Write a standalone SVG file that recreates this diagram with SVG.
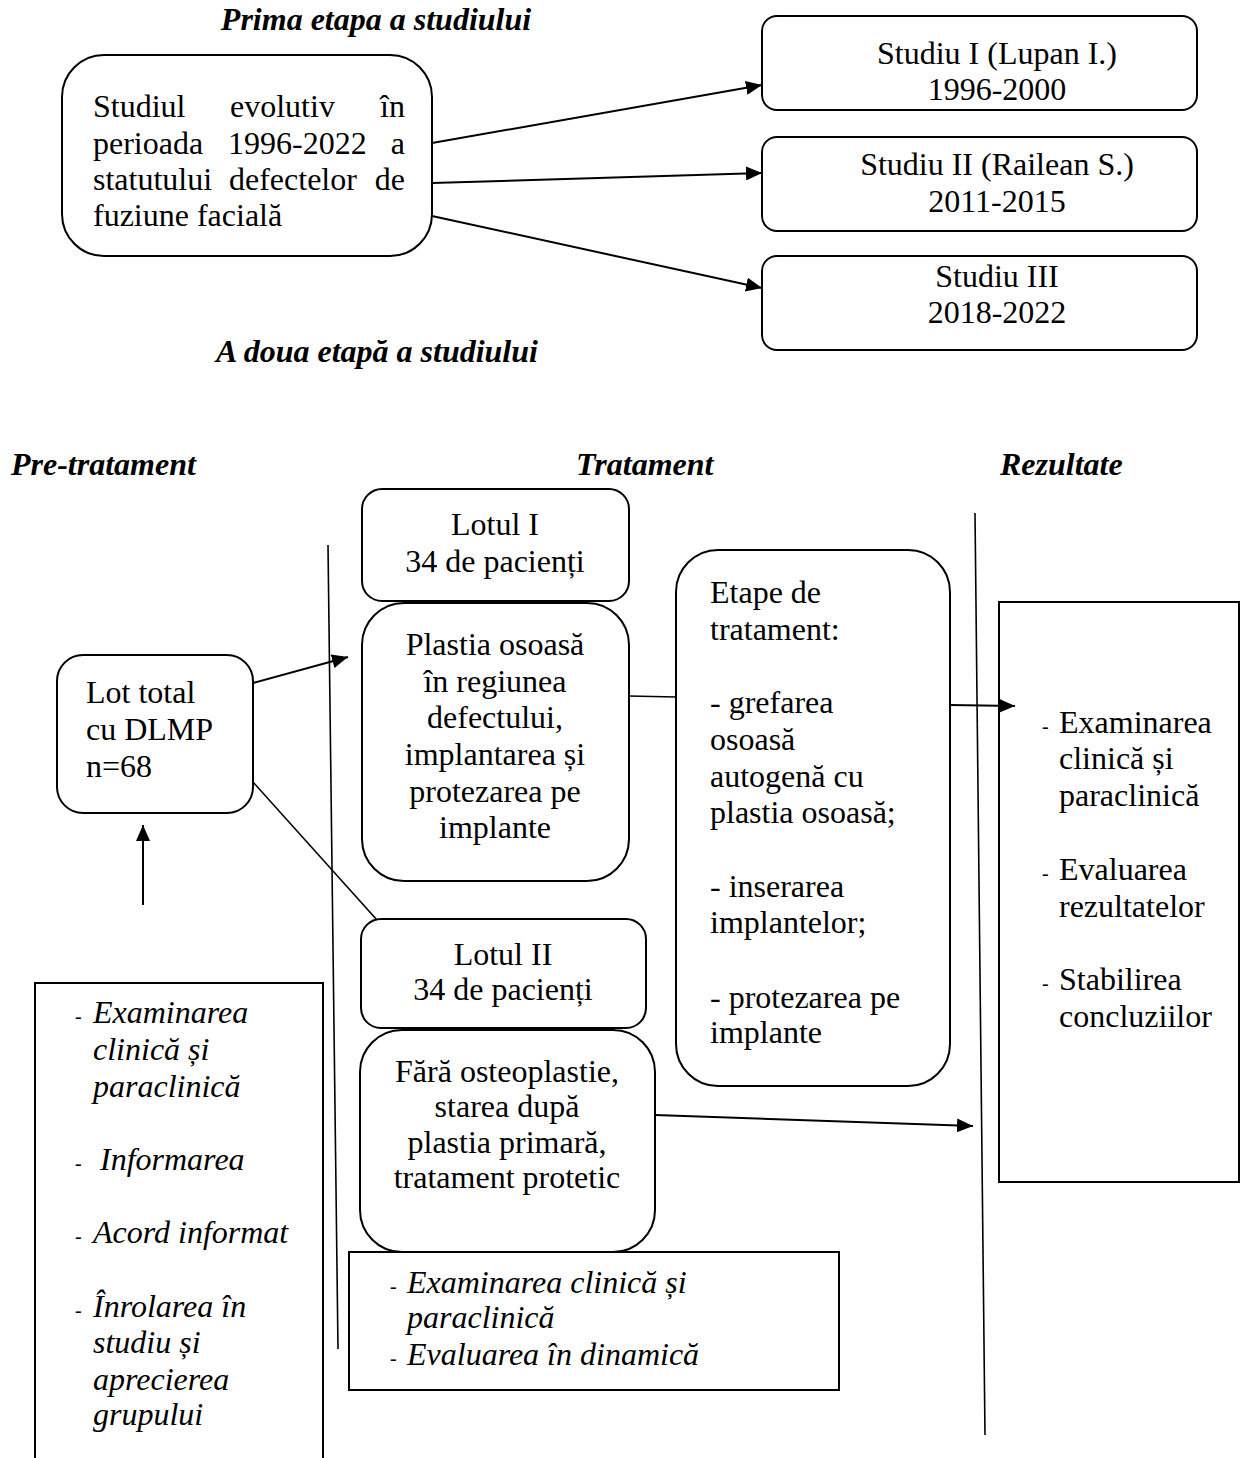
<svg xmlns="http://www.w3.org/2000/svg" width="1246" height="1458" viewBox="0 0 1246 1458">
<style>
text{font-family:"Liberation Serif","Times New Roman",serif;font-size:32px;fill:#000}
.t{font-weight:bold;font-style:italic}
.i{font-style:italic}
.c{text-anchor:middle}
.e{text-anchor:end}
.d{font-size:20px}
.box{fill:#fff;stroke:#000;stroke-width:2}
.ln{fill:none;stroke:#000;stroke-width:2}
.thin{fill:none;stroke:#000;stroke-width:1.6}
</style>
<defs>
<marker id="ah" markerUnits="userSpaceOnUse" markerWidth="16" markerHeight="14" refX="16" refY="7" orient="auto">
<path d="M0,0 L16,7 L0,14 z" fill="#000"/>
</marker>
</defs>
<rect width="1246" height="1458" fill="#fff"/>

<g id="titles">
<text class="t c" x="376" y="30">Prima etapa a studiului</text>
<text class="t c" x="377" y="362">A doua etapă a studiului</text>
<text class="t" x="11" y="475">Pre-tratament</text>
<text class="t" x="576" y="475">Tratament</text>
<text class="t" x="1000" y="475">Rezultate</text>
</g>

<g id="node-studiul">
<rect class="box" x="62" y="55" width="370" height="201" rx="42"/>
<text x="93" y="117">Studiul</text><text x="230" y="117">evolutiv</text><text class="e" x="405" y="117">în</text>
<text x="93" y="154">perioada</text><text x="228" y="154">1996-2022</text><text class="e" x="405" y="154">a</text>
<text x="93" y="190">statutului</text><text x="229" y="190">defectelor</text><text class="e" x="405" y="190">de</text>
<text x="93" y="226">fuziune facială</text>
</g>

<g id="node-studiu1">
<rect class="box" x="762" y="16" width="435" height="94" rx="15"/>
<text class="c" x="997" y="64">Studiu I (Lupan I.)</text>
<text class="c" x="997" y="100">1996-2000</text>
</g>
<g id="node-studiu2">
<rect class="box" x="762" y="137" width="435" height="94" rx="15"/>
<text class="c" x="997" y="175">Studiu II (Railean S.)</text>
<text class="c" x="997" y="212">2011-2015</text>
</g>
<g id="node-studiu3">
<rect class="box" x="762" y="256" width="435" height="94" rx="15"/>
<text class="c" x="997" y="287">Studiu III</text>
<text class="c" x="997" y="323">2018-2022</text>
</g>

<g id="node-lot-total">
<rect class="box" x="57" y="655" width="196" height="158" rx="26"/>
<text x="86" y="703">Lot total</text>
<text x="86" y="740">cu DLMP</text>
<text x="86" y="777">n=68</text>
</g>

<g id="node-pre-list">
<path class="ln" d="M35,1458 V983 H323 V1458"/>
<text class="d" x="75" y="1023">-</text><text class="i" x="93" y="1023">Examinarea</text>
<text class="i" x="93" y="1060">clinică și</text>
<text class="i" x="93" y="1097">paraclinică</text>
<text class="d" x="75" y="1170">-</text><text class="i" x="100" y="1170">Informarea</text>
<text class="d" x="75" y="1243">-</text><text class="i" x="93" y="1243">Acord informat</text>
<text class="d" x="75" y="1317">-</text><text class="i" x="93" y="1317">Înrolarea în</text>
<text class="i" x="93" y="1353">studiu și</text>
<text class="i" x="93" y="1390">aprecierea</text>
<text class="i" x="93" y="1425">grupului</text>
</g>

<g id="node-lotul1">
<rect class="box" x="362" y="489" width="267" height="112" rx="20"/>
<text class="c" x="495" y="535">Lotul I</text>
<text class="c" x="495" y="572">34 de pacienți</text>
</g>

<g id="node-plastia">
<rect class="box" x="362" y="603" width="267" height="278" rx="42"/>
<text class="c" x="495" y="655">Plastia osoasă</text>
<text class="c" x="495" y="692">în regiunea</text>
<text class="c" x="495" y="728">defectului,</text>
<text class="c" x="495" y="765">implantarea și</text>
<text class="c" x="495" y="802">protezarea pe</text>
<text class="c" x="495" y="838">implante</text>
</g>

<g id="node-lotul2">
<rect class="box" x="361" y="919" width="285" height="109" rx="20"/>
<text class="c" x="503" y="965">Lotul II</text>
<text class="c" x="503" y="1000">34 de pacienți</text>
</g>

<g id="node-fara">
<rect class="box" x="360" y="1030" width="295" height="222" rx="42"/>
<text class="c" x="507" y="1082">Fără osteoplastie,</text>
<text class="c" x="507" y="1117">starea după</text>
<text class="c" x="507" y="1153">plastia primară,</text>
<text class="c" x="507" y="1188">tratament protetic</text>
</g>

<g id="node-evaluare">
<rect class="box" x="349" y="1252" width="490" height="138"/>
<text class="d" x="390" y="1293">-</text><text class="i" x="407" y="1293">Examinarea clinică și</text>
<text class="i" x="407" y="1328">paraclinică</text>
<text class="d" x="390" y="1365">-</text><text class="i" x="407" y="1365">Evaluarea în dinamică</text>
</g>

<g id="node-etape">
<rect class="box" x="676" y="550" width="274" height="536" rx="42"/>
<text x="710" y="603">Etape de</text>
<text x="710" y="640">tratament:</text>
<text x="710" y="713">- grefarea</text>
<text x="710" y="750">osoasă</text>
<text x="710" y="787">autogenă cu</text>
<text x="710" y="823">plastia osoasă;</text>
<text x="710" y="897">- inserarea</text>
<text x="710" y="933">implantelor;</text>
<text x="710" y="1008">- protezarea pe</text>
<text x="710" y="1043">implante</text>
</g>

<g id="node-rezultate">
<rect class="box" x="999" y="602" width="240" height="580"/>
<text class="d" x="1042" y="733">-</text><text x="1059" y="733">Examinarea</text>
<text x="1059" y="769">clinică și</text>
<text x="1059" y="806">paraclinică</text>
<text class="d" x="1042" y="880">-</text><text x="1059" y="880">Evaluarea</text>
<text x="1059" y="917">rezultatelor</text>
<text class="d" x="1042" y="990">-</text><text x="1059" y="990">Stabilirea</text>
<text x="1059" y="1027">concluziilor</text>
</g>

<g id="connectors">
<line class="ln" x1="432" y1="143" x2="762" y2="85" marker-end="url(#ah)"/>
<line class="ln" x1="432" y1="183" x2="762" y2="173" marker-end="url(#ah)"/>
<line class="ln" x1="432" y1="216" x2="762" y2="288" marker-end="url(#ah)"/>
<line class="ln" x1="253" y1="683" x2="348" y2="657" marker-end="url(#ah)"/>
<line class="thin" x1="253" y1="782" x2="377" y2="920"/>
<line class="ln" x1="143" y1="905" x2="143" y2="825" marker-end="url(#ah)"/>
<line class="thin" x1="629" y1="696" x2="676" y2="697"/>
<line class="ln" x1="950" y1="705" x2="1015" y2="706" marker-end="url(#ah)"/>
<line class="ln" x1="655" y1="1115" x2="973" y2="1126" marker-end="url(#ah)"/>
<line class="thin" x1="328" y1="545" x2="338" y2="1349"/>
<line class="thin" x1="975" y1="513" x2="985" y2="1435"/>
</g>
</svg>
